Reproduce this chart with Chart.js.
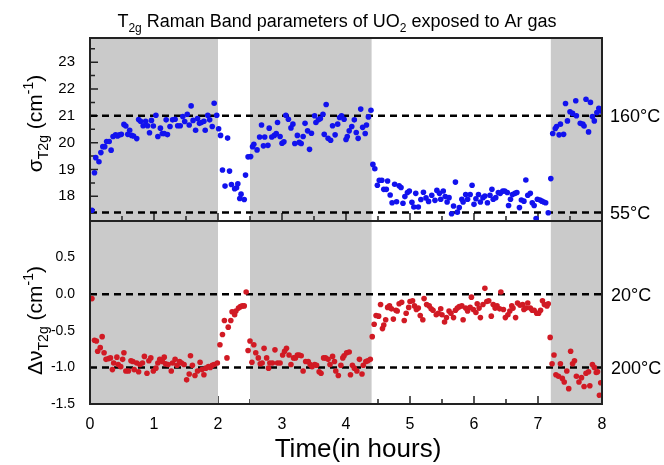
<!DOCTYPE html>
<html>
<head>
<meta charset="utf-8">
<script src="https://cdn.jsdelivr.net/npm/chart.js@4.4.1/dist/chart.umd.min.js"></script>
<style>
  html, body { margin: 0; padding: 0; background: #fff; }
  #wrap { position: relative; width: 664px; height: 465px; }
</style>
</head>
<body>
<div id="wrap"><canvas id="raman-chart" width="664" height="465"></canvas></div>
<script>
// values (time in hours)
const sigmaTime = [
  0.03, 0.07, 0.09, 0.14, 0.17, 0.20, 0.23, 0.26, 0.30, 0.33, 0.36, 0.40, 0.43, 0.46, 0.49, 0.53, 0.56, 0.59, 0.62, 0.65,
  0.68, 0.73, 0.76, 0.79, 0.83, 0.87, 0.90, 0.93, 0.96, 0.99, 1.03, 1.06, 1.10, 1.13, 1.16, 1.19, 1.21, 1.25, 1.29, 1.33,
  1.37, 1.41, 1.45, 1.48, 1.52, 1.55, 1.58, 1.61, 1.65, 1.68, 1.71, 1.74, 1.78, 1.80, 1.84, 1.87, 1.91, 1.94, 1.98,
  2.01, 2.04, 2.07, 2.11, 2.15, 2.18, 2.21, 2.26, 2.29, 2.31, 2.34, 2.36, 2.41, 2.43,
  2.47, 2.51, 2.54, 2.56, 2.61, 2.65, 2.68, 2.71, 2.73, 2.78, 2.80, 2.84, 2.88, 2.91, 2.93, 2.97, 3.00, 3.03, 3.06, 3.10,
  3.14, 3.17, 3.20, 3.24, 3.27, 3.30, 3.33, 3.36, 3.40, 3.43, 3.46, 3.51, 3.53, 3.57, 3.60, 3.64, 3.66, 3.69, 3.72, 3.76,
  3.79, 3.83, 3.87, 3.90, 3.93, 3.97, 4.00, 4.02, 4.05, 4.09, 4.13, 4.16, 4.19, 4.23, 4.26, 4.30, 4.32, 4.35, 4.39,
  4.42, 4.45, 4.49, 4.52, 4.56, 4.59, 4.63, 4.65, 4.69, 4.72, 4.76, 4.79, 4.83, 4.86, 4.89, 4.92, 4.96, 4.99, 5.03, 5.06,
  5.09, 5.13, 5.17, 5.21, 5.25, 5.29, 5.34, 5.39, 5.42, 5.46, 5.48, 5.52, 5.55, 5.58, 5.61, 5.65, 5.68, 5.71, 5.74, 5.77,
  5.81, 5.83, 5.87, 5.90, 5.94, 5.97, 6.00, 6.03, 6.07, 6.10, 6.14, 6.17, 6.21, 6.25, 6.28, 6.30, 6.34, 6.38, 6.41, 6.45,
  6.48, 6.52, 6.54, 6.57, 6.60, 6.64, 6.67, 6.71, 6.74, 6.78, 6.81, 6.84, 6.88, 6.91, 6.94, 6.97, 6.99, 7.03, 7.06, 7.09,
  7.12, 7.16,
  7.20, 7.23, 7.27, 7.29, 7.33, 7.35, 7.40, 7.43, 7.46, 7.50, 7.54, 7.59, 7.60, 7.66, 7.70, 7.72, 7.75, 7.79, 7.82, 7.85,
  7.88, 7.92, 7.95, 7.99
];
const sigmaValue = [
  17.48, 18.88, 19.44, 19.29, 19.63, 19.85, 19.85, 20.04, 20.04, 19.72, 20.23, 20.29, 20.25, 20.29, 20.31, 20.68, 20.62, 20.31, 20.46, 20.27,
  20.25, 20.15, 20.86, 20.80, 20.63, 20.80, 20.63, 20.37, 20.83, 20.62, 21.02, 20.23, 20.54, 20.34, 20.34, 20.85, 20.30, 20.60, 20.85, 20.87,
  20.63, 20.63, 20.97, 20.79, 21.06, 20.66, 21.37, 20.83, 20.46, 20.90, 20.72, 20.75, 20.80, 20.46, 21.02, 20.85, 20.60, 21.47, 21.02,
  20.52, 20.27, 18.98, 18.38, 20.17, 18.94, 18.44, 18.28, 18.32, 18.47, 17.92, 18.08, 17.88, 18.79,
  19.47, 19.48, 19.85, 19.94, 19.73, 20.21, 20.66, 19.88, 20.21, 19.90, 20.54, 20.21, 20.27, 20.34, 20.75, 20.23, 19.98, 20.03, 21.02, 20.87,
  20.55, 20.69, 19.97, 20.27, 20.01, 19.97, 20.23, 20.72, 20.44, 19.75, 20.35, 21.00, 20.75, 20.85, 20.90, 21.06, 20.31, 21.42, 20.16, 20.09,
  20.63, 20.29, 20.69, 20.94, 21.00, 20.87, 20.12, 20.23, 20.44, 20.60, 20.85, 20.38, 20.16, 21.25, 20.57, 20.34, 20.66, 20.96, 21.21,
  19.19, 19.03, 18.41, 18.60, 18.60, 18.26, 18.26, 18.57, 18.05, 17.76, 18.45, 17.80, 18.39, 18.33, 17.74, 17.99, 18.14, 18.20, 17.78, 17.60,
  18.11, 17.60, 17.88, 18.15, 17.94, 17.81, 18.04, 17.85, 18.22, 18.11, 17.89, 18.20, 17.99, 17.79, 17.95, 17.35, 17.64, 18.53, 17.41, 17.58,
  17.89, 17.79, 18.07, 17.89, 18.07, 18.41, 17.70, 17.91, 18.07, 17.79, 17.95, 18.01, 17.76, 18.04, 18.26, 17.89, 17.95, 18.14, 18.11, 18.20,
  18.20, 18.14, 17.66, 17.89, 18.07, 18.11, 18.14, 17.58, 17.86, 17.82, 18.61, 18.04, 18.11, 17.76, 17.66, 17.17, 17.89, 17.86, 17.82, 17.79,
  17.76, 17.39,
  18.66, 20.34, 20.53, 20.60, 20.29, 20.69, 20.31, 21.46, 20.81, 21.15, 21.09, 21.56, 21.00, 20.72, 20.69, 20.62, 21.62, 20.40, 21.50, 20.97,
  20.81, 21.12, 21.28, 21.18
];

const shiftTime = [
  0.03, 0.07, 0.10, 0.12, 0.16, 0.19, 0.22, 0.25, 0.29, 0.32, 0.35, 0.37, 0.42, 0.44, 0.48, 0.51, 0.53, 0.56, 0.60, 0.64,
  0.67, 0.69, 0.73, 0.76, 0.78, 0.82, 0.85, 0.89, 0.92, 0.95, 0.99, 1.03, 1.06, 1.09, 1.13, 1.16, 1.18, 1.22, 1.27, 1.29,
  1.33, 1.36, 1.40, 1.43, 1.47, 1.51, 1.55, 1.57, 1.60, 1.64, 1.68, 1.72, 1.75, 1.78, 1.81, 1.85, 1.88, 1.91, 1.94, 1.99,
  2.03, 2.07, 2.10, 2.14, 2.16, 2.20, 2.22, 2.26, 2.28, 2.32, 2.35, 2.38, 2.41, 2.44,
  2.47, 2.50, 2.53, 2.56, 2.59, 2.63, 2.66, 2.69, 2.72, 2.76, 2.79, 2.81, 2.85, 2.89, 2.93, 2.97, 3.01, 3.04, 3.07, 3.11,
  3.14, 3.18, 3.21, 3.24, 3.27, 3.30, 3.33, 3.37, 3.41, 3.44, 3.47, 3.51, 3.54, 3.58, 3.61, 3.65, 3.68, 3.72, 3.75, 3.79,
  3.82, 3.84, 3.88, 3.92, 3.95, 3.97, 4.01, 4.05, 4.07, 4.10, 4.13, 4.17, 4.21, 4.25, 4.27, 4.31, 4.34, 4.38,
  4.41, 4.44, 4.47, 4.51, 4.54, 4.57, 4.59, 4.62, 4.65, 4.68, 4.71, 4.74, 4.78, 4.80, 4.83, 4.87, 4.91, 4.94, 4.98, 5.00,
  5.04, 5.07, 5.10, 5.13, 5.16, 5.20, 5.22, 5.26, 5.30, 5.33, 5.36, 5.41, 5.44, 5.48, 5.50, 5.54, 5.57, 5.61, 5.64, 5.68,
  5.71, 5.74, 5.77, 5.81, 5.83, 5.87, 5.90, 5.94, 5.96, 5.99, 6.03, 6.05, 6.08, 6.10, 6.14, 6.17, 6.20, 6.23, 6.27, 6.30,
  6.33, 6.36, 6.40, 6.42, 6.46, 6.49, 6.53, 6.56, 6.59, 6.61, 6.65, 6.68, 6.72, 6.76, 6.78, 6.81, 6.84, 6.88, 6.91, 6.94,
  6.98, 7.01, 7.04, 7.07, 7.10, 7.14, 7.16, 7.19,
  7.22, 7.25, 7.28, 7.32, 7.35, 7.38, 7.41, 7.45, 7.48, 7.51, 7.54, 7.57, 7.60, 7.64, 7.68, 7.72, 7.75, 7.79, 7.81, 7.85,
  7.88, 7.91, 7.93, 7.96, 7.98
];
const shiftValue = [
  -0.06, -0.63, -0.64, -0.78, -0.73, -0.58, -0.80, -0.89, -0.88, -0.87, -1.03, -0.94, -0.86, -0.96, -0.99, -0.89, -0.80, -1.05, -1.05, -0.91,
  -0.92, -1.03, -0.94, -1.06, -0.96, -0.94, -0.85, -1.08, -0.91, -0.87, -1.05, -1.01, -0.94, -0.89, -0.92, -0.86, -0.95, -0.96, -1.05, -0.94,
  -0.89, -0.97, -0.92, -0.94, -0.96, -1.17, -1.09, -0.84, -0.97, -1.11, -1.05, -0.93, -1.03, -1.10, -1.01, -0.99, -1.00, -0.97, -0.96, -0.94,
  -0.69, -0.55, -0.36, -0.87, -0.45, -0.36, -0.24, -0.28, -0.23, -0.19, -0.17, -0.16, -0.16, 0.03,
  -0.77, -0.64, -0.93, -0.69, -0.80, -0.87, -0.95, -0.94, -0.74, -0.87, -1.01, -0.94, -0.94, -0.76, -0.94, -0.94, -0.83, -0.78, -0.74, -0.83,
  -0.96, -0.87, -0.87, -0.83, -0.83, -0.84, -1.05, -0.92, -0.92, -0.96, -0.99, -0.96, -0.97, -1.06, -1.08, -0.87, -0.87, -0.89, -0.96, -0.85,
  -0.92, -1.05, -1.11, -0.97, -0.87, -0.84, -0.80, -0.79, -1.10, -0.97, -1.01, -1.05, -0.89, -1.09, -0.97, -0.92, -0.91, -0.89,
  -0.58, -0.41, -0.29, -0.30, -0.14, -0.47, -0.42, -0.35, -0.18, -0.16, -0.20, -0.34, -0.22, -0.23, -0.13, -0.11, -0.36, -0.26, -0.18, -0.10,
  -0.09, -0.16, -0.21, -0.19, -0.29, -0.35, -0.06, -0.14, -0.16, -0.20, -0.22, -0.28, -0.26, -0.20, -0.28, -0.38, -0.32, -0.23, -0.26, -0.32,
  -0.22, -0.19, -0.17, -0.16, -0.35, -0.19, -0.23, -0.18, -0.04, -0.21, -0.25, -0.13, -0.19, -0.32, -0.14, 0.08, -0.10, -0.09, -0.30, -0.14,
  -0.19, -0.16, -0.20, 0.03, -0.21, -0.32, -0.28, -0.23, -0.16, -0.19, -0.32, -0.12, -0.15, -0.14, -0.21, -0.19, -0.12, -0.19, -0.22, -0.22,
  -0.26, -0.26, -0.22, -0.09, -0.14, -0.16, -0.13, -0.59,
  -0.95, -0.83, -1.10, -1.12, -0.95, -1.15, -1.20, -1.05, -1.29, -0.78, -0.95, -0.91, -1.12, -1.20, -1.14, -1.26, -1.08, -1.06, -1.25, -0.96,
  -1.00, -1.07, -1.06, -1.38, -1.21
];

const xTicks = [0, 1, 2, 3, 4, 5, 6, 7, 8];
const sigmaTicks = [18, 19, 20, 21, 22, 23];
const shiftTicks = [-1.5, -1.0, -0.5, 0.0, 0.5];
// Ar gas exposure periods (shaded)
const gasPeriods = [[0, 2.0], [2.5, 4.4], [7.2, 8]];
const sigmaRefLines = [21, 17.4];
const sigmaRefLabels = ['160°C', '55°C'];
const shiftRefLines = [0, -1];
const shiftRefLabels = ['20°C', '200°C'];

const FONT = "'Liberation Sans', Arial, sans-serif";

function richText(ctx, parts, x, y, center) {
  // parts: [text, px size, baseline shift]
  let total = 0;
  parts.forEach(p => { ctx.font = p[1] + 'px ' + FONT; total += ctx.measureText(p[0]).width; });
  let cx = center ? x - total / 2 : x;
  parts.forEach(p => {
    ctx.font = p[1] + 'px ' + FONT;
    ctx.fillText(p[0], cx, y + p[2]);
    cx += ctx.measureText(p[0]).width;
  });
}

function midpoints(vals, min, max) {
  const out = [];
  const step = vals[1] - vals[0];
  const ext = [vals[0] - step].concat(vals, [vals[vals.length - 1] + step]);
  for (let i = 0; i < ext.length - 1; i++) {
    const m = (ext[i] + ext[i + 1]) / 2;
    if (m > min && m < max) out.push(m);
  }
  return out;
}

function drawTicks(ctx, xs, ys, ticks) {
  ctx.save();
  ctx.strokeStyle = '#222';
  ctx.lineWidth = 1.5;
  ctx.beginPath();
  xTicks.forEach(v => {
    const px = xs.getPixelForValue(v);
    if (v > xs.min && v < xs.max) { ctx.moveTo(px, ys.bottom); ctx.lineTo(px, ys.bottom - 8); }
  });
  midpoints(xTicks, xs.min, xs.max).forEach(v => {
    const px = xs.getPixelForValue(v);
    ctx.moveTo(px, ys.bottom); ctx.lineTo(px, ys.bottom - 5);
  });
  ticks.forEach(v => {
    const py = ys.getPixelForValue(v);
    if (v > ys.min && v < ys.max) { ctx.moveTo(xs.left, py); ctx.lineTo(xs.left + 8, py); }
  });
  midpoints(ticks, ys.min, ys.max).forEach(v => {
    const py = ys.getPixelForValue(v);
    ctx.moveTo(xs.left, py); ctx.lineTo(xs.left + 5, py);
  });
  ctx.stroke();
  ctx.restore();
}

const panelDecor = {
  id: 'panelDecor',
  beforeDatasetsDraw(chart) {
    const ctx = chart.ctx;
    const xs = chart.scales.x, top = chart.scales.ySigma, bot = chart.scales.yShift;
    const area = chart.chartArea;

    drawTicks(ctx, xs, bot, shiftTicks);

    ctx.save();
    ctx.fillStyle = '#cacaca';
    gasPeriods.forEach(p => {
      const x0 = xs.getPixelForValue(p[0]), x1 = xs.getPixelForValue(p[1]);
      ctx.fillRect(x0, area.top, x1 - x0, area.bottom - area.top);
    });
    ctx.restore();

    drawTicks(ctx, xs, top, sigmaTicks);

    ctx.save();
    ctx.strokeStyle = '#000';
    ctx.lineWidth = 2.5;
    ctx.setLineDash([7, 5]);
    ctx.beginPath();
    sigmaRefLines.forEach(v => {
      const py = top.getPixelForValue(v);
      ctx.moveTo(xs.left, py); ctx.lineTo(xs.right, py);
    });
    shiftRefLines.forEach(v => {
      const py = bot.getPixelForValue(v);
      ctx.moveTo(xs.left, py); ctx.lineTo(xs.right, py);
    });
    ctx.stroke();
    ctx.restore();
  },
  afterDatasetsDraw(chart) {
    const ctx = chart.ctx;
    const xs = chart.scales.x, top = chart.scales.ySigma, bot = chart.scales.yShift;

    // frames
    ctx.save();
    ctx.strokeStyle = '#222';
    ctx.lineWidth = 2;
    ctx.strokeRect(xs.left, top.top, xs.right - xs.left, top.bottom - top.top);
    ctx.strokeRect(xs.left, bot.top, xs.right - xs.left, bot.bottom - bot.top);
    ctx.restore();

    ctx.save();
    ctx.fillStyle = '#000';
    ctx.textAlign = 'left';
    ctx.textBaseline = 'alphabetic';

    // temperature labels on the right
    ctx.font = '18px ' + FONT;
    sigmaRefLines.forEach((v, i) => ctx.fillText(sigmaRefLabels[i], xs.right + 8, top.getPixelForValue(v) + 6.5));
    shiftRefLines.forEach((v, i) => ctx.fillText(shiftRefLabels[i], xs.right + 9, bot.getPixelForValue(v) + 6.5));

    // chart title
    richText(ctx, [['T', 18, 0], ['2g', 12, 5], [' Raman Band parameters of UO', 18, 0], ['2', 12, 5], [' exposed to Ar gas', 18, 0]],
      337, 27, true);

    // x axis title
    ctx.font = '26px ' + FONT;
    ctx.textAlign = 'center';
    ctx.fillText('Time(in hours)', (xs.left + xs.right) / 2 + 12, 457);
    ctx.textAlign = 'left';

    // y axis titles (rotated)
    ctx.save();
    ctx.translate(42, (top.top + top.bottom) / 2 - 6);
    ctx.rotate(-Math.PI / 2);
    richText(ctx, [['σ', 21, 0], ['T2g', 14, 6], [' (cm', 21, 0], ['-1', 14, -9], [')', 21, 0]], 0, 0, true);
    ctx.restore();

    ctx.save();
    ctx.translate(42, (bot.top + bot.bottom) / 2 + 8);
    ctx.rotate(-Math.PI / 2);
    richText(ctx, [['Δν', 21, 0], ['T2g', 14, 6], [' (cm', 21, 0], ['-1', 14, -9], [')', 21, 0]], 0, 0, true);
    ctx.restore();

    ctx.restore();
  }
};

const toPoints = (xs, ys) => xs.map((t, i) => ({ x: t, y: ys[i] }));

new Chart(document.getElementById('raman-chart').getContext('2d'), {
  type: 'scatter',
  data: {
    datasets: [
      {
        label: 'sigma',
        data: toPoints(sigmaTime, sigmaValue),
        yAxisID: 'ySigma',
        backgroundColor: '#1212ee',
        pointRadius: 2.8,
        pointBorderWidth: 0,
      },
      {
        label: 'shift',
        data: toPoints(shiftTime, shiftValue),
        yAxisID: 'yShift',
        backgroundColor: '#d11a24',
        pointRadius: 2.8,
        pointBorderWidth: 0,
      },
    ],
  },
  options: {
    responsive: false,
    animation: false,
    devicePixelRatio: 1,
    layout: { padding: { top: 38, right: 62, left: 0, bottom: 0 } },
    plugins: {
      legend: { display: false },
      tooltip: { enabled: false },
    },
    scales: {
      x: {
        type: 'linear',
        position: 'bottom',
        min: 0,
        max: 8,
        grid: { display: false },
        border: { display: false },
        afterBuildTicks: s => { s.ticks = xTicks.map(v => ({ value: v })); },
        afterFit: s => { s.height = 61; },
        ticks: {
          color: '#000',
          padding: 3,
          font: { family: FONT, size: 16 },
          callback: v => String(v),
        },
      },
      ySigma: {
        type: 'linear',
        position: 'left',
        stack: 'panels',
        stackWeight: 1,
        weight: 2,
        min: 17.08,
        max: 23.9,
        grid: { display: false },
        border: { display: false },
        afterBuildTicks: s => { s.ticks = sigmaTicks.map(v => ({ value: v })); },
        afterFit: s => { s.width = 90; },
        ticks: {
          color: '#000',
          padding: 7,
          font: { family: FONT, size: 15 },
          callback: v => String(v),
        },
      },
      yShift: {
        type: 'linear',
        position: 'left',
        stack: 'panels',
        stackWeight: 1,
        weight: 1,
        min: -1.5,
        max: 1.0,
        grid: { display: false },
        border: { display: false },
        afterBuildTicks: s => { s.ticks = shiftTicks.map(v => ({ value: v })); },
        afterFit: s => { s.width = 90; },
        ticks: {
          color: '#000',
          padding: 7,
          font: { family: FONT, size: 14 },
          callback: v => v.toFixed(1),
        },
      },
    },
  },
  plugins: [panelDecor],
});
</script>
</body>
</html>
